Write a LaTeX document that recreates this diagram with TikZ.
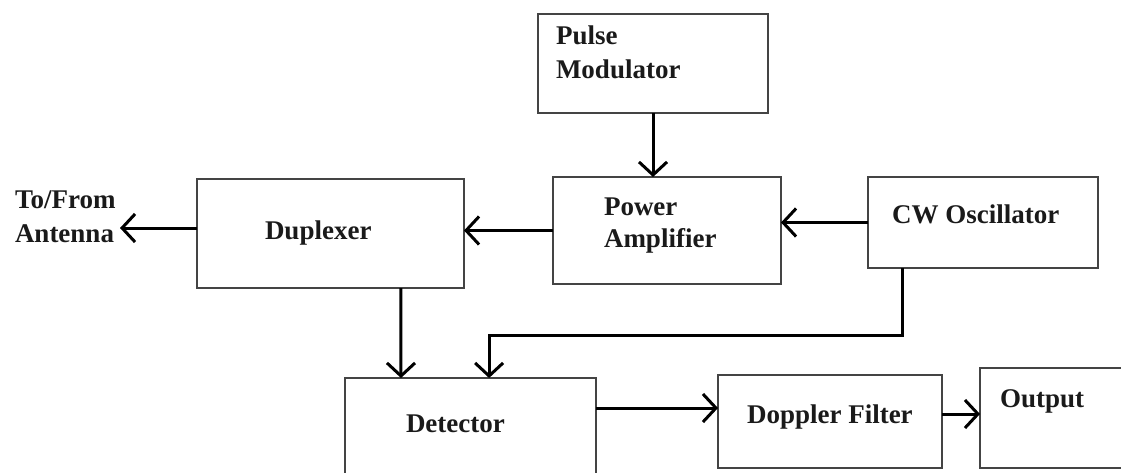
\documentclass[tikz,border=0pt]{standalone}
\usepackage{fontspec}
\setmainfont{Liberation Serif}
\usetikzlibrary{arrows.meta,calc}
\definecolor{boxgray}{HTML}{444444}
\definecolor{txt}{HTML}{1A1A1A}
\begin{document}
\begin{tikzpicture}[x=1pt,y=-1pt,
  box/.style={draw=boxgray, line width=2pt, inner sep=0pt, outer sep=0pt, rectangle},
  lbl/.style={anchor=base west, inner sep=0pt, outer sep=0pt, font=\bfseries\fontsize{27}{30}\selectfont, text=txt},
  arr/.style={draw=black, line width=3pt, -{Straight Barb[length=13pt,width=28pt]}}]

\useasboundingbox (0,0) rectangle (1121,473);

% boxes
\node[box, minimum width=230pt, minimum height=99pt]  (pulse) at (653,63.5) {};
\node[box, minimum width=228pt, minimum height=107pt] (pa)    at (667,230.5) {};
\node[box, minimum width=230pt, minimum height=91pt]  (cw)    at (983,222.5) {};
\node[box, minimum width=267pt, minimum height=109pt] (dup)   at (330.5,233.5) {};
\node[box, minimum width=251pt, minimum height=122pt] (det)   at (470.5,439) {};
\node[box, minimum width=224pt, minimum height=93pt]  (dop)   at (830,421.5) {};
\node[box, minimum width=150pt, minimum height=100pt] (out)   at (1055,418) {};

% labels
\node[lbl] (pulseA) at (556,45) {Pulse};
\node[lbl] (pulseB) at (556,79) {Modulator};
\node[lbl] (paA) at (604,215) {Power};
\node[lbl] (paB) at (604,247) {Amplifier};
\node[lbl] (cwA) at (892,223) {CW Oscillator};
\node[lbl] (dupA) at (265,239) {Duplexer};
\node[lbl] (antA) at (15,208) {To/From};
\node[lbl] (antB) at (15,242) {Antenna};
\node[lbl] (detA) at (406,432) {Detector};
\node[lbl] (dopA) at (747,423) {Doppler Filter};
\node[lbl] (outA) at (1000,407) {Output};

% connectors
\coordinate (antend) at (120,228);
\draw[arr] (pulse.south) -- (pulse.south |- pa.north);
\draw[arr] (cw.west) -- (cw.west -| pa.east);
\draw[arr] (pa.west) -- (pa.west -| dup.east);
\draw[arr] (dup.west |- antend) -- (antend);
\draw[arr] ($(dup.south west)!0.764!(dup.south east)$) -- ($(det.north west)!0.223!(det.north east)$);
\draw[arr] ($(cw.south west)!0.148!(cw.south east)$) -- ++(0,67) -| ($(det.north west)!0.574!(det.north east)$);
\coordinate (deto) at ($(det.east)+(0,-31)$);
\draw[arr] (deto) -- (deto -| dop.west);
\coordinate (dopo) at ($(dop.east)+(0,-7.5)$);
\draw[arr] (dopo) -- (dopo -| out.west);
\end{tikzpicture}
\end{document}
